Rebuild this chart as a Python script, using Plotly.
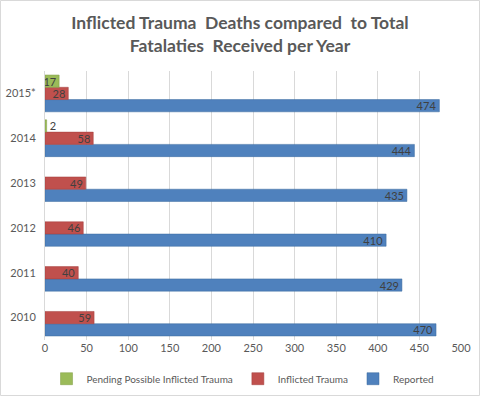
import plotly.graph_objects as go

years = ["2010", "2011", "2012", "2013", "2014", "2015*"]
reported = [470, 429, 410, 435, 444, 474]
inflicted = [59, 40, 46, 49, 58, 28]
pending = [None, None, None, None, 2, 17]

font_fam = "Lato, 'Open Sans', sans-serif"
lbl_font = dict(family=font_fam, size=11, color="#404040")

fig = go.Figure()
fig.add_trace(go.Bar(y=years, x=reported, orientation="h", name="Reported",
                     marker=dict(color="#4F81BD", line=dict(color="#3A6A9F", width=0.5)),
                     text=reported, textposition="inside", insidetextanchor="end", textangle=0,
                     textfont=lbl_font, constraintext="none"))
fig.add_trace(go.Bar(y=years, x=inflicted, orientation="h", name="Inflicted Trauma",
                     marker=dict(color="#C0504D", line=dict(color="#A23F3C", width=0.5)),
                     text=inflicted, textposition="inside", insidetextanchor="end", textangle=0,
                     textfont=lbl_font, constraintext="none"))
fig.add_trace(go.Bar(y=years, x=pending, orientation="h", name="Pending Possible Inflicted Trauma",
                     marker=dict(color="#9BBB59", line=dict(color="#7F9D43", width=0.5)),
                     text=pending, textposition=["inside"] * 4 + ["outside", "inside"],
                     insidetextanchor="end", textangle=0,
                     textfont=lbl_font, outsidetextfont=lbl_font, constraintext="none",
                     cliponaxis=False))

fig.update_layout(
    width=480, height=396,
    paper_bgcolor="white", plot_bgcolor="white",
    margin=dict(l=45, r=19, t=71, b=56, autoexpand=False),
    barmode="group", bargap=0.18, bargroupgap=0.0,
    title=dict(text="<b>Inflicted Trauma  Deaths compared  to Total<br>Fatalaties  Received per Year</b>",
               x=0.5, xref="container", xanchor="center", yref="container",
               y=1 - 29 / 396, yanchor="middle",
               font=dict(family=font_fam, size=17.5, color="#595959")),
    font=dict(family=font_fam, size=11, color="#595959"),
    showlegend=True,
    legend=dict(orientation="h", x=0.476, xanchor="center", y=-0.09, yanchor="top",
                traceorder="reversed", font=dict(family=font_fam, size=10, color="#595959"),
                itemwidth=30),
)
fig.update_xaxes(range=[0, 500], dtick=50, showgrid=True, gridcolor="#D9D9D9", gridwidth=1,
                 zeroline=False, showline=False, ticks="", automargin=False,
                 tickfont=dict(size=11, color="#595959"))
fig.update_yaxes(type="category", categoryorder="array", categoryarray=years,
                 showgrid=False, showline=True, linecolor="#D9D9D9", linewidth=1, ticks="",
                 automargin=False, ticklabelstandoff=6, tickfont=dict(size=11, color="#595959"))
fig.add_shape(type="rect", xref="paper", yref="paper",
              x0=-44.5/416, x1=1 + 18.5/416, y0=-55.5/269, y1=1 + 70.5/269,
              line=dict(color="#D9D9D9", width=1), fillcolor="rgba(0,0,0,0)", layer="below")

fig.write_html("out.html", config={"displayModeBar": False},
               post_script="document.body.style.margin='0';document.body.style.overflow='hidden';")
